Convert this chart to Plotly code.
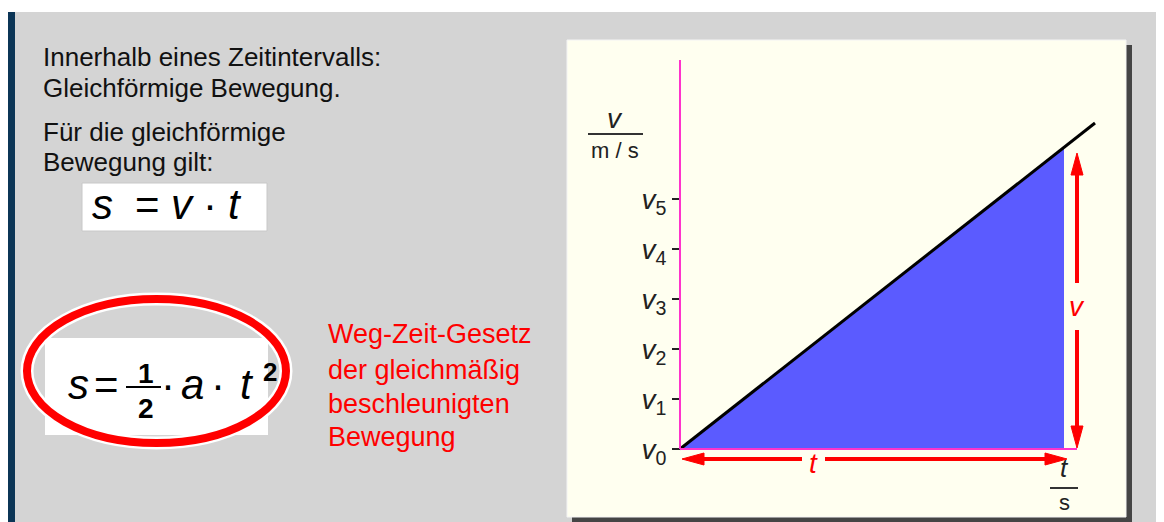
import plotly.graph_objects as go

# The page puts the figure 8px from the top-left corner; the figure is sized to fill the rest.
OFF = 8
W, H = 1164 - OFF, 522 - OFF

# ---- data ----
v_tick_vals = [0, 1, 2, 3, 4, 5]
v_tick_labels = ["<i>v</i><sub>0</sub>", "<i>v</i><sub>1</sub>", "<i>v</i><sub>2</sub>",
                 "<i>v</i><sub>3</sub>", "<i>v</i><sub>4</sub>", "<i>v</i><sub>5</sub>"]
t_line = [0, 8.3]        # v-t line (uniformly accelerated motion)
v_line = [0, 6.52]
t_fill = [0, 7.68]       # interval whose area is the distance s
v_fill = [0, 6.04]

left_lines = ["Innerhalb eines Zeitintervalls:", "Gleichförmige Bewegung.",
              "Für die gleichförmige", "Bewegung gilt:"]
red_lines = ["Weg-Zeit-Gesetz", "der gleichmäßig", "beschleunigten", "Bewegung"]

# ---- helpers: screen pixel -> paper fraction ----
def PX(x):
    return (x - OFF) / W

def PY(y):
    return 1 - (y - OFF) / H

SANS = "Liberation Sans, Arial, sans-serif"
NARROW = "Liberation Sans Narrow, Arial Narrow, Liberation Sans, sans-serif"
RED = "#ff0000"
MAG = "#ff33cc"
U = 50.0  # pixels per data unit on both chart axes

fig = go.Figure()

# area under v-t line
fig.add_trace(go.Scatter(
    x=[t_fill[0], t_fill[1], t_fill[1], t_fill[0]],
    y=[v_fill[0], v_fill[1], v_fill[0], v_fill[0]],
    fill="toself", fillcolor="#5b5bff", mode="lines",
    line=dict(width=0, color="#5b5bff"), hoverinfo="skip"))
# v-t line
fig.add_trace(go.Scatter(x=t_line, y=v_line, mode="lines",
                         line=dict(color="black", width=3), hoverinfo="skip"))

shapes = []
# page background pieces
shapes.append(dict(type="rect", xref="paper", yref="paper", x0=0, x1=1, y0=PY(12), y1=1,
                   fillcolor="white", line_width=0, layer="below"))
shapes.append(dict(type="rect", xref="paper", yref="paper", x0=PX(8), x1=PX(15), y0=0, y1=PY(12),
                   fillcolor="#0b3556", line_width=0, layer="below"))
shapes.append(dict(type="rect", xref="paper", yref="paper", x0=PX(1160), x1=1, y0=0, y1=PY(12),
                   fillcolor="#0b3556", line_width=0, layer="below"))
# chart panel + shadow
shapes.append(dict(type="rect", xref="paper", yref="paper", x0=PX(572), x1=PX(1132), y0=0, y1=PY(45),
                   fillcolor="#454545", line_width=0, layer="below"))
shapes.append(dict(type="rect", xref="paper", yref="paper", x0=PX(567), x1=PX(1126), y0=PY(517), y1=PY(40),
                   fillcolor="#fffff0", line=dict(color="#f4f4f4", width=1), layer="below"))
# formula box s = v t
shapes.append(dict(type="rect", xref="paper", yref="paper", x0=PX(82), x1=PX(267), y0=PY(231), y1=PY(183),
                   fillcolor="white", line=dict(color="#c8c8c8", width=1), layer="below"))
# white box behind the circled formula
shapes.append(dict(type="rect", xref="paper", yref="paper", x0=PX(45), x1=PX(268), y0=PY(435), y1=PY(338),
                   fillcolor="white", line_width=0, layer="below"))
# hand drawn red ellipse with white halo
shapes.append(dict(type="circle", xref="paper", yref="paper", x0=PX(27), x1=PX(286), y0=PY(443), y1=PY(299),
                   line=dict(color="white", width=13), layer="below"))
shapes.append(dict(type="circle", xref="paper", yref="paper", x0=PX(27), x1=PX(286), y0=PY(443), y1=PY(299),
                   line=dict(color=RED, width=8), layer="below"))
# fraction bar in circled formula
shapes.append(dict(type="line", xref="paper", yref="paper", x0=PX(126), x1=PX(161), y0=PY(387), y1=PY(387),
                   line=dict(color="black", width=2), layer="below"))
# unit fraction bars
shapes.append(dict(type="line", xref="paper", yref="paper", x0=PX(588), x1=PX(643), y0=PY(134), y1=PY(134),
                   line=dict(color="#333333", width=2), layer="below"))
shapes.append(dict(type="line", xref="paper", yref="paper", x0=PX(1050), x1=PX(1078), y0=PY(488), y1=PY(488),
                   line=dict(color="#333333", width=2), layer="below"))

# chart axis lines (magenta)
y_top = 7.78
shapes.append(dict(type="line", xref="x", yref="y", x0=0, x1=0, y0=0, y1=y_top,
                   line=dict(color=MAG, width=2), layer="above"))
t_arrow_v = t_fill[1] + 13 / U          # vertical red arrow position
shapes.append(dict(type="line", xref="x", yref="y", x0=0, x1=t_arrow_v, y0=0, y1=0,
                   line=dict(color=MAG, width=2), layer="above"))

# red dimension arrows
hl = 22 / U   # head length
hw = 6 / U    # head half width
yh = -10 / U  # horizontal arrow level
tl, tr = 2 / U, t_fill[1] + 3 / U
gap_l, gap_r = 2.44, 2.9
for (a, b) in [(tl + hl, gap_l), (gap_r, tr - hl)]:
    shapes.append(dict(type="line", xref="x", yref="y", x0=a, x1=b, y0=yh, y1=yh,
                       line=dict(color=RED, width=4), layer="above"))
shapes.append(dict(type="path", xref="x", yref="y",
                   path=f"M{tl},{yh} L{tl+hl},{yh+hw} L{tl+hl},{yh-hw} Z",
                   fillcolor=RED, line=dict(color=RED, width=1), layer="above"))
shapes.append(dict(type="path", xref="x", yref="y",
                   path=f"M{tr},{yh} L{tr-hl},{yh+hw} L{tr-hl},{yh-hw} Z",
                   fillcolor=RED, line=dict(color=RED, width=1), layer="above"))
vb, vt = 1 / U, v_fill[1] - 6 / U
gv_l, gv_h = 2.38, 3.32
for (a, b) in [(vb + hl, gv_l), (gv_h, vt - hl)]:
    shapes.append(dict(type="line", xref="x", yref="y", x0=t_arrow_v, x1=t_arrow_v, y0=a, y1=b,
                       line=dict(color=RED, width=4), layer="above"))
shapes.append(dict(type="path", xref="x", yref="y",
                   path=f"M{t_arrow_v},{vb} L{t_arrow_v-hw},{vb+hl} L{t_arrow_v+hw},{vb+hl} Z",
                   fillcolor=RED, line=dict(color=RED, width=1), layer="above"))
shapes.append(dict(type="path", xref="x", yref="y",
                   path=f"M{t_arrow_v},{vt} L{t_arrow_v-hw},{vt-hl} L{t_arrow_v+hw},{vt-hl} Z",
                   fillcolor=RED, line=dict(color=RED, width=1), layer="above"))

ann = []

def text(s, x, y, size, family=SANS, color="#111111", xanchor="center"):
    ann.append(dict(text=s, x=PX(x), y=PY(y), xref="paper", yref="paper", showarrow=False,
                    xanchor=xanchor, yanchor="middle", font=dict(size=size, family=family, color=color)))

# left description
for s, y in zip(left_lines, [57, 88, 132, 162]):
    text(s, 41, y, 26, xanchor="left")
# formula s = v * t
for s, x in [("<i>s</i>", 102), ("=", 147), ("<i>v</i>", 183), ("·", 210), ("<i>t</i>", 235)]:
    text(s, x, 205, 42, family=NARROW, color="black")
# circled formula
for s, x in [("<i>s</i>", 78), ("=", 107), ("·", 168), ("<i>a</i>", 192), ("·", 218), ("<i>t</i>", 247)]:
    text(s, x, 384, 42, family=NARROW, color="black")
text("<b>1</b>", 146, 373, 28, color="black")
text("<b>2</b>", 146, 408, 28, color="black")
text("<b>2</b>", 270, 372, 26, color="black")
# red explanation
for s, y in zip(red_lines, [334, 370, 404, 437]):
    text(s, 326, y, 27, color=RED, xanchor="left")
# axis unit labels
text("<i>v</i>", 615, 118, 28, family=NARROW, color="#222222")
text("m / s", 615, 150, 22, color="#222222")
text("<i>t</i>", 1064, 468, 26, family=NARROW, color="#222222")
text("s", 1064, 502, 22, color="#222222")
# red arrow labels (data coords)
ann.append(dict(text="<i>t</i>", x=(gap_l + gap_r) / 2, y=yh - 4 / U, xref="x", yref="y", showarrow=False,
                font=dict(size=28, family=NARROW, color=RED)))
ann.append(dict(text="<i>v</i>", x=t_arrow_v, y=(gv_l + gv_h) / 2, xref="x", yref="y", showarrow=False,
                font=dict(size=28, family=NARROW, color=RED)))

x_left_px, x_right_px = 665, 1130
y_bot_px, y_top_px = 519, 60
fig.update_layout(
    width=W, height=H, margin=dict(l=0, r=0, t=0, b=0),
    paper_bgcolor="#d4d4d4", plot_bgcolor="rgba(0,0,0,0)", showlegend=False,
    shapes=shapes, annotations=ann,
    xaxis=dict(domain=[PX(x_left_px), PX(x_right_px)],
               range=[-(680 - x_left_px) / U, (x_right_px - 680) / U],
               visible=False, fixedrange=True),
    yaxis=dict(domain=[PY(y_bot_px), PY(y_top_px)],
               range=[-(y_bot_px - 449) / U, (449 - y_top_px) / U],
               anchor="free", position=PX(680), side="left",
               tickvals=v_tick_vals, ticktext=v_tick_labels,
               ticks="outside", ticklen=8, tickwidth=2, tickcolor="#222222",
               showgrid=False, zeroline=False, showline=False,
               tickfont=dict(size=28, family=NARROW, color="#222222"), fixedrange=True),
)

fig.write_html("out.html")
